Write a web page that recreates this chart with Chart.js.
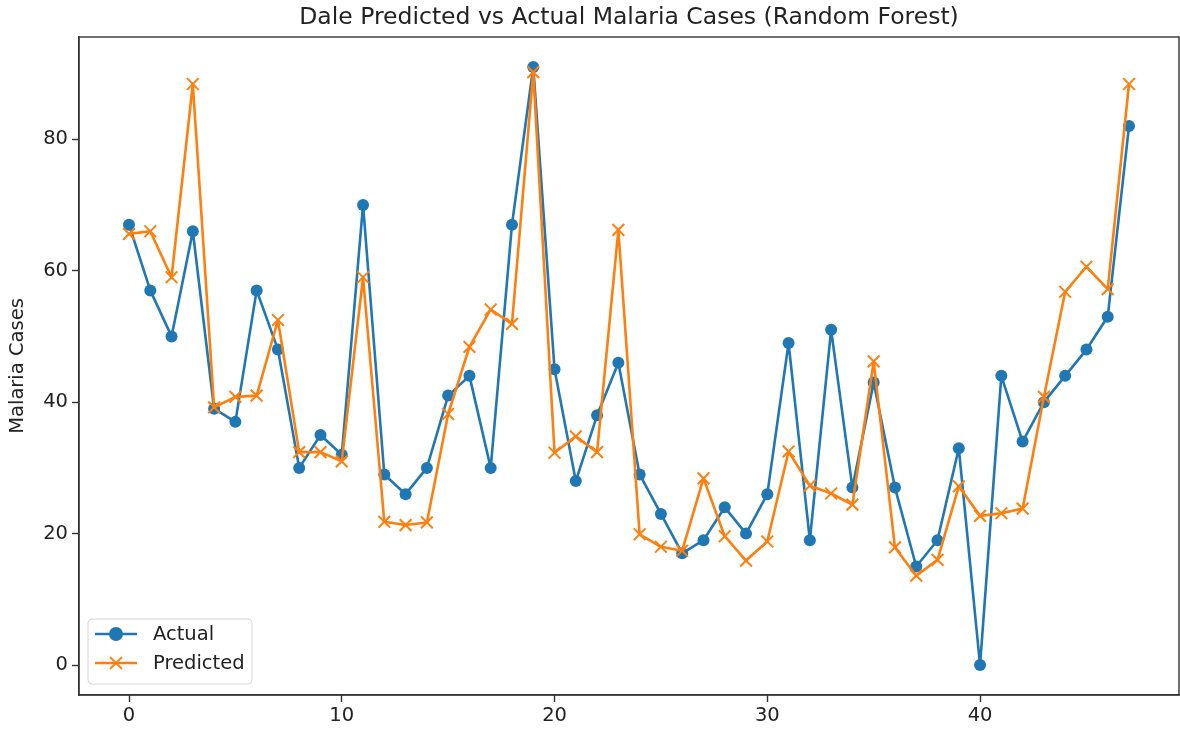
<!DOCTYPE html>
<html>
<head>
<meta charset="utf-8">
<title>Dale Predicted vs Actual Malaria Cases</title>
<script src="https://cdn.jsdelivr.net/npm/chart.js@4/dist/chart.umd.min.js"></script>
<style>
  html, body { margin: 0; padding: 0; background: #fff; overflow: hidden; }
  #wrap { position: relative; width: 1180px; height: 732px; }
</style>
</head>
<body>
<div id="wrap"><canvas id="chart"></canvas></div>
<script>
const chartTitle = "Dale Predicted vs Actual Malaria Cases (Random Forest)";
const yLabel = "Malaria Cases";
const seriesNames = ["Actual", "Predicted"];

const actual = [67, 57, 50, 66, 39, 37, 57, 48, 30, 35,
                32, 70, 29, 26, 30, 41, 44, 30, 67, 91,
                45, 28, 38, 46, 29, 23, 17, 19, 24, 20,
                26, 49, 19, 51, 27, 43, 27, 15, 19, 33,
                0, 44, 34, 40, 44, 48, 53, 82];
const predicted = [65.6, 66.0, 59.0, 88.4, 39.2, 40.8, 41.0, 52.5, 32.4, 32.4,
                   31.0, 59.0, 21.8, 21.3, 21.7, 38.2, 48.4, 54.1, 51.9, 90.2,
                   32.3, 34.8, 32.4, 66.2, 19.9, 18.0, 17.4, 28.4, 19.6, 15.9,
                   18.8, 32.5, 27.3, 26.1, 24.4, 46.2, 17.9, 13.6, 16.0, 27.2,
                   22.7, 23.1, 23.8, 40.8, 56.8, 60.6, 57.2, 88.4];

const xTicks = [0, 10, 20, 30, 40];
const yTicks = [0, 20, 40, 60, 80];

const BLUE = "#1f77b4";
const ORANGE = "#ff7f0e";
const INK = "#222";
const FONT = "'DejaVu Sans', sans-serif";

const sampleIndex = actual.map((_, i) => i);
const toPoints = (vals) => vals.map((v, i) => ({ x: sampleIndex[i], y: v }));

// 5% margins like the usual auto-scaled axes
const xPad = (sampleIndex[sampleIndex.length - 1] - sampleIndex[0]) * 0.05;
const yMin = Math.min(...actual, ...predicted);
const yMax = Math.max(...actual, ...predicted);
const yPad = (yMax - yMin) * 0.05;

Chart.defaults.font.family = FONT;
Chart.defaults.color = INK;

// box around the plot, title over the plot area, legend in the lower left
const frame = {
    id: "frame",
    afterDatasetsDraw(chart) {
        const { ctx, chartArea: a } = chart;
        ctx.save();
        ctx.strokeStyle = "#333";
        ctx.lineWidth = 1.4;
        ctx.strokeRect(a.left, a.top, a.right - a.left, a.bottom - a.top);

        ctx.fillStyle = INK;
        ctx.font = "23.5px " + FONT;
        ctx.textAlign = "center";
        ctx.textBaseline = "middle";
        ctx.fillText(chartTitle, (a.left + a.right) / 2, 18);

        // legend
        const bx = 88, by = 619, bw = 164, bh = 65;
        ctx.beginPath();
        ctx.roundRect(bx, by, bw, bh, 4);
        ctx.fillStyle = "rgba(255,255,255,0.8)";
        ctx.fill();
        ctx.strokeStyle = "#d6d6d6";
        ctx.lineWidth = 1;
        ctx.stroke();

        const rows = [
            { name: seriesNames[0], color: BLUE, y: 634, style: "circle", r: 6 },
            { name: seriesNames[1], color: ORANGE, y: 663, style: "crossRot", r: 8.3 },
        ];
        rows.forEach((row) => {
            ctx.strokeStyle = row.color;
            ctx.lineWidth = 2.6;
            ctx.beginPath();
            ctx.moveTo(95, row.y);
            ctx.lineTo(137, row.y);
            ctx.stroke();
            ctx.fillStyle = row.color;
            ctx.lineWidth = 2;
            Chart.helpers.drawPoint(ctx, { pointStyle: row.style, radius: row.r, borderWidth: 2 }, 116, row.y);
            if (row.style === "circle") ctx.fill();
            ctx.fillStyle = INK;
            ctx.font = "19.5px " + FONT;
            ctx.textAlign = "left";
            ctx.textBaseline = "middle";
            ctx.fillText(row.name, 153, row.y + 1);
        });
        ctx.restore();
    },
};

new Chart(document.getElementById("chart"), {
    type: "line",
    data: {
        datasets: [
            {
                label: seriesNames[0],
                data: toPoints(actual),
                borderColor: BLUE,
                backgroundColor: BLUE,
                borderWidth: 2.6,
                borderJoinStyle: "round",
                pointStyle: "circle",
                pointRadius: 6,
                pointBorderWidth: 0,
                order: 2,
            },
            {
                label: seriesNames[1],
                data: toPoints(predicted),
                borderColor: ORANGE,
                backgroundColor: ORANGE,
                borderWidth: 2.6,
                borderJoinStyle: "round",
                pointStyle: "crossRot",
                pointRadius: 8.3,
                pointBorderWidth: 2,
                order: 1,
            },
        ],
    },
    options: {
        responsive: true,
        maintainAspectRatio: false,
        animation: false,
        layout: { autoPadding: false, padding: { top: 37, right: 1, left: 0, bottom: 0 } },
        plugins: {
            legend: { display: false },
            title: { display: false },
            tooltip: { enabled: false },
        },
        elements: { line: { tension: 0 } },
        scales: {
            x: {
                type: "linear",
                min: sampleIndex[0] - xPad,
                max: sampleIndex[sampleIndex.length - 1] + xPad,
                afterBuildTicks: (s) => { s.ticks = xTicks.map((v) => ({ value: v })); },
                afterFit: (s) => { s.height = 37; s.paddingLeft = 0; s.paddingRight = 0; },
                grid: { drawOnChartArea: false, tickLength: 7, tickColor: "#333", tickWidth: 1.4 },
                border: { color: "#333", width: 1.4 },
                ticks: { font: { size: 19.5 }, color: INK, padding: 2, maxRotation: 0 },
            },
            y: {
                type: "linear",
                min: yMin - yPad,
                max: yMax + yPad,
                afterBuildTicks: (s) => { s.ticks = yTicks.map((v) => ({ value: v })); },
                afterFit: (s) => { s.width = 79; s.paddingTop = 0; s.paddingBottom = 0; },
                grid: { drawOnChartArea: false, tickLength: 7, tickColor: "#333", tickWidth: 1.4 },
                border: { color: "#333", width: 1.4 },
                ticks: { font: { size: 19.5 }, color: INK, padding: 4 },
                title: { display: true, text: yLabel, font: { size: 19.5 }, color: INK, padding: { top: 6, bottom: 0 } },
            },
        },
    },
    plugins: [frame],
});
</script>
</body>
</html>
